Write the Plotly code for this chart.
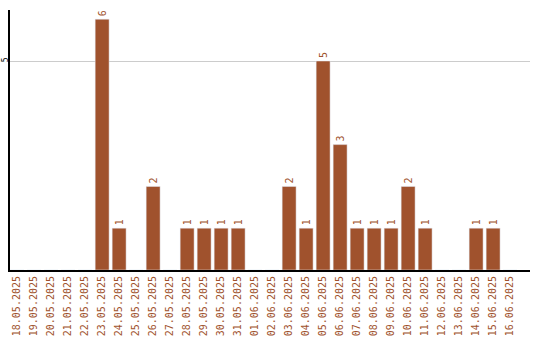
import plotly.graph_objects as go

dates = ["18.05.2025","19.05.2025","20.05.2025","21.05.2025","22.05.2025","23.05.2025",
         "24.05.2025","25.05.2025","26.05.2025","27.05.2025","28.05.2025","29.05.2025",
         "30.05.2025","31.05.2025","01.06.2025","02.06.2025","03.06.2025","04.06.2025",
         "05.06.2025","06.06.2025","07.06.2025","08.06.2025","09.06.2025","10.06.2025",
         "11.06.2025","12.06.2025","13.06.2025","14.06.2025","15.06.2025","16.06.2025"]
counts = [0,0,0,0,0,6,1,0,2,0,1,1,1,1,0,0,2,1,5,3,1,1,1,2,1,0,0,1,1,0]

labels = [str(v) if v else "" for v in counts]
color = "#A0522D"

fig = go.Figure(go.Bar(
    x=list(range(len(dates))), y=counts, marker_color=color, width=0.82,
    text=labels, textposition="outside", textangle=-90,
    textfont=dict(family="DejaVu Sans Mono", size=10, color=color),
    cliponaxis=False,
))
fig.update_layout(
    width=540, height=340, margin=dict(l=10, r=10, t=10, b=70),
    plot_bgcolor="white", paper_bgcolor="white", showlegend=False,
    bargap=0.18,
)
fig.update_xaxes(
    tickmode="array", tickvals=list(range(len(dates))), ticktext=dates,
    tickangle=-90, range=[-0.42, 30.17], showgrid=False, automargin=False,
    showline=True, linecolor="black", linewidth=2, ticks="",
    tickfont=dict(family="DejaVu Sans Mono", size=10, color=color),
)
fig.update_yaxes(
    range=[0, 6.22], tickvals=[5], ticktext=["5"], tickangle=-90, automargin=False,
    showgrid=True, gridcolor="#cccccc", gridwidth=1, zeroline=False,
    showline=True, linecolor="black", linewidth=2, ticks="", ticklabelstandoff=-3,
    tickfont=dict(family="DejaVu Sans Mono", size=8, color="black"),
)
fig.write_html("out.html")
